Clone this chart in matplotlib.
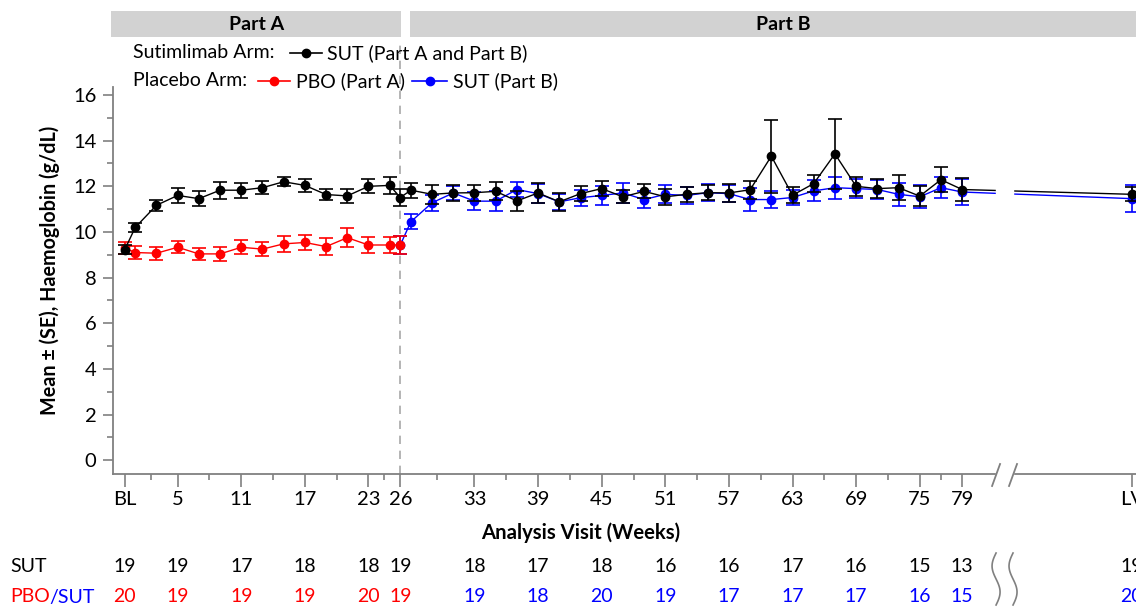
import matplotlib.pyplot as plt
import matplotlib.transforms as mtransforms
from matplotlib.lines import Line2D
from matplotlib.patches import Rectangle
import numpy as np

plt.rcParams['font.family'] = ['Lato', 'DejaVu Sans']

W, H = 1136, 607
LV = 95  # position of last visit, drawn after the axis break

# visit weeks
sut_weeks = [0, 1, 3, 5, 7, 9, 11, 13, 15, 17, 19, 21, 23, 25, 26, 27, 29, 31, 33, 35,
             37, 39, 41, 43, 45, 47, 49, 51, 53, 55, 57, 59, 61, 63, 65, 67, 69, 71, 73,
             75, 77, 79, LV]
sut_mean = [9.22, 10.2, 11.17, 11.6, 11.46, 11.83, 11.83, 11.94, 12.2, 12.04, 11.64, 11.58,
            12.0, 12.04, 11.51, 11.83, 11.65, 11.71, 11.72, 11.78, 11.36, 11.71, 11.32, 11.68,
            11.9, 11.54, 11.78, 11.54, 11.65, 11.72, 11.71, 11.85, 13.32, 11.61, 12.12, 13.42,
            12.0, 11.9, 11.94, 11.57, 12.29, 11.86, 11.65]
sut_se = [0.2, 0.2, 0.25, 0.33, 0.33, 0.38, 0.32, 0.29, 0.2, 0.29, 0.25, 0.31,
          0.3, 0.36, 0.36, 0.32, 0.41, 0.34, 0.35, 0.4, 0.42, 0.43, 0.38, 0.33,
          0.33, 0.29, 0.31, 0.34, 0.33, 0.33, 0.38, 0.4, 1.6, 0.36, 0.36, 1.54,
          0.42, 0.43, 0.55, 0.45, 0.54, 0.51, 0.3]

pbo_weeks = [0, 1, 3, 5, 7, 9, 11, 13, 15, 17, 19, 21, 23, 25, 26]
pbo_mean = [9.3, 9.1, 9.07, 9.33, 9.04, 9.04, 9.33, 9.25, 9.48, 9.54, 9.36, 9.75, 9.43, 9.43, 9.43]
pbo_se = [0.26, 0.29, 0.29, 0.27, 0.26, 0.29, 0.3, 0.29, 0.34, 0.34, 0.36, 0.41, 0.36, 0.35, 0.4]

# placebo arm switched to sutimlimab in Part B (starts from the week 26 value)
sw_weeks = [26, 27, 29, 31, 33, 35, 37, 39, 41, 43, 45, 47, 49, 51, 53, 55, 57, 59, 61, 63,
            65, 67, 69, 71, 73, 75, 77, 79, LV]
sw_mean = [9.43, 10.45, 11.28, 11.71, 11.35, 11.35, 11.86, 11.68, 11.32, 11.5, 11.6, 11.71,
           11.42, 11.65, 11.6, 11.72, 11.68, 11.42, 11.42, 11.51, 11.8, 11.94, 11.9, 11.86,
           11.65, 11.54, 11.94, 11.75, 11.46]
sw_se = [0.4, 0.33, 0.34, 0.3, 0.39, 0.43, 0.31, 0.4, 0.36, 0.36, 0.4, 0.43,
         0.38, 0.4, 0.38, 0.38, 0.38, 0.5, 0.36, 0.33, 0.46, 0.48, 0.41, 0.43,
         0.5, 0.5, 0.46, 0.58, 0.58]

tick_pos = [0, 5, 11, 17, 23, 26, 33, 39, 45, 51, 57, 63, 69, 75, 79, LV]
tick_lab = ['BL', '5', '11', '17', '23', '26', '33', '39', '45', '51', '57', '63', '69', '75', '79', 'LV']
minor_pos = [2.5, 8, 14, 20, 24.5, 29.5, 36, 42, 48, 54, 60, 66, 72, 77]

n_sut = [19, 19, 17, 18, 18, 19, 18, 17, 18, 16, 16, 17, 16, 15, 13, 19]
n_pbo = [20, 19, 19, 19, 20, 19, 19, 18, 20, 19, 17, 17, 17, 16, 15, 20]
n_pbo_red = 6  # first six counts are placebo (Part A)

RED = '#ff0000'
BLUE = '#0000ff'
GREY = '#808080'


def fx(px):
    return px / W


def fy(py):
    return 1 - py / H


fig = plt.figure(figsize=(W / 100, H / 100), dpi=100)
ax = fig.add_axes([fx(113), fy(474), 1 - fx(113), (474 - 87) / H])

style = dict(marker='o', ms=6, lw=1.0, elinewidth=1.2, capsize=5, capthick=1.2)
ax.errorbar(sw_weeks, sw_mean, yerr=sw_se, color=BLUE, zorder=2.0, **style)
ax.errorbar(pbo_weeks, pbo_mean, yerr=pbo_se, color=RED, zorder=2.1, **style)
ax.errorbar(sut_weeks, sut_mean, yerr=sut_se, color='black', zorder=2.2, **style)

ax.set_xlim(-1.1, 95.4)
ax.set_ylim(-0.6, 16.35)

ax.set_xticks(tick_pos)
ax.set_xticklabels(tick_lab)
ax.set_xticks(minor_pos, minor=True)
ax.set_yticks(range(0, 17, 2))
ax.set_yticks(range(1, 17, 2), minor=True)
ax.tick_params(axis='both', which='both', direction='out', color=GREY, width=1.2, labelsize=14.5)
ax.tick_params(axis='x', which='major', length=9, pad=3)
ax.tick_params(axis='x', which='minor', length=4)
ax.tick_params(axis='y', which='major', length=7, pad=5)
ax.tick_params(axis='y', which='minor', length=4)
for s in ['top', 'right']:
    ax.spines[s].set_visible(False)
for s in ['left', 'bottom']:
    ax.spines[s].set_color(GREY)
    ax.spines[s].set_linewidth(1.3)

# end of Part A
ax.axvline(26, ymin=0, ymax=(474 - 40) / (474 - 87), color='#a8a8a8', ls=(0, (5, 4)),
           lw=1.2, clip_on=False, zorder=1)

# axis break before LV
brk0, brk1 = 82.2, 83.8
ax.axvspan(brk0, brk1, ymin=-0.03, ymax=1, color='white', zorder=3, clip_on=False)
for b in [brk0, brk1]:
    bx = ax.transData.transform((b, 0))[0]
    fig.add_artist(Line2D([fx(bx - 4), fx(bx + 4)], [fy(486), fy(464)], color=GREY, lw=1.3))
    t = np.linspace(0, 1, 60)
    fig.add_artist(Line2D(fx(bx - 4 * np.sin(2 * np.pi * t)), fy(553 + 52 * t), color=GREY, lw=1.2))

# header bars
hb = mtransforms.blended_transform_factory(ax.transData, fig.transFigure)
for x0, x1, lab in [(-1.27, 26.1, 'Part A'), (26.95, 97.3, 'Part B')]:
    fig.add_artist(Rectangle((x0, fy(37)), x1 - x0, (37 - 11) / H, transform=hb,
                             facecolor='#d2d2d2', edgecolor='none', clip_on=False))
    fig.text((x0 + x1) / 2, fy(24), lab, transform=hb, ha='center', va='center',
             fontsize=14, fontweight='bold')

# legend rows
fs = 14
fig.text(fx(133), fy(53), 'Sutimlimab Arm:', ha='left', va='center', fontsize=fs)
fig.text(fx(133), fy(81), 'Placebo Arm:', ha='left', va='center', fontsize=fs)
for x0, x1, yy, c in [(290, 322, 53, 'black'), (258, 290, 81, RED), (412, 447, 81, BLUE)]:
    fig.add_artist(Line2D([fx(x0), fx((x0 + x1) / 2), fx(x1)], [fy(yy)] * 3, color=c, lw=1.2,
                          marker='o', ms=6, markevery=[1]))
fig.text(fx(327), fy(53), 'SUT (Part A and Part B)', ha='left', va='center', fontsize=fs)
fig.text(fx(296), fy(81), 'PBO (Part A)', ha='left', va='center', fontsize=fs)
fig.text(fx(453), fy(81), 'SUT (Part B)', ha='left', va='center', fontsize=fs)

# axis titles
fig.text(fx(50), fy(270), 'Mean ± (SE), Haemoglobin (g/dL)', rotation=90, ha='center',
         va='center', fontsize=14.2, fontweight='bold')
fig.text(fx(581), fy(533), 'Analysis Visit (Weeks)', ha='center', va='center',
         fontsize=14.6, fontweight='bold')

# numbers at risk
fig.text(fx(10), fy(566), 'SUT', ha='left', va='center', fontsize=fs)
t1 = fig.text(fx(10), fy(597), 'PBO', ha='left', va='center', fontsize=fs, color=RED)
fig.canvas.draw()
bb = t1.get_window_extent()
fig.text(fx(bb.x1), fy(597), '/SUT', ha='left', va='center', fontsize=fs, color=BLUE)
for i, (p, a, b) in enumerate(zip(tick_pos, n_sut, n_pbo)):
    ax.text(p, fy(566), str(a), transform=hb, ha='center', va='center', fontsize=fs)
    ax.text(p, fy(597), str(b), transform=hb, ha='center', va='center', fontsize=fs,
            color=RED if i < n_pbo_red else BLUE)

fig.savefig('out.png', dpi=100)
